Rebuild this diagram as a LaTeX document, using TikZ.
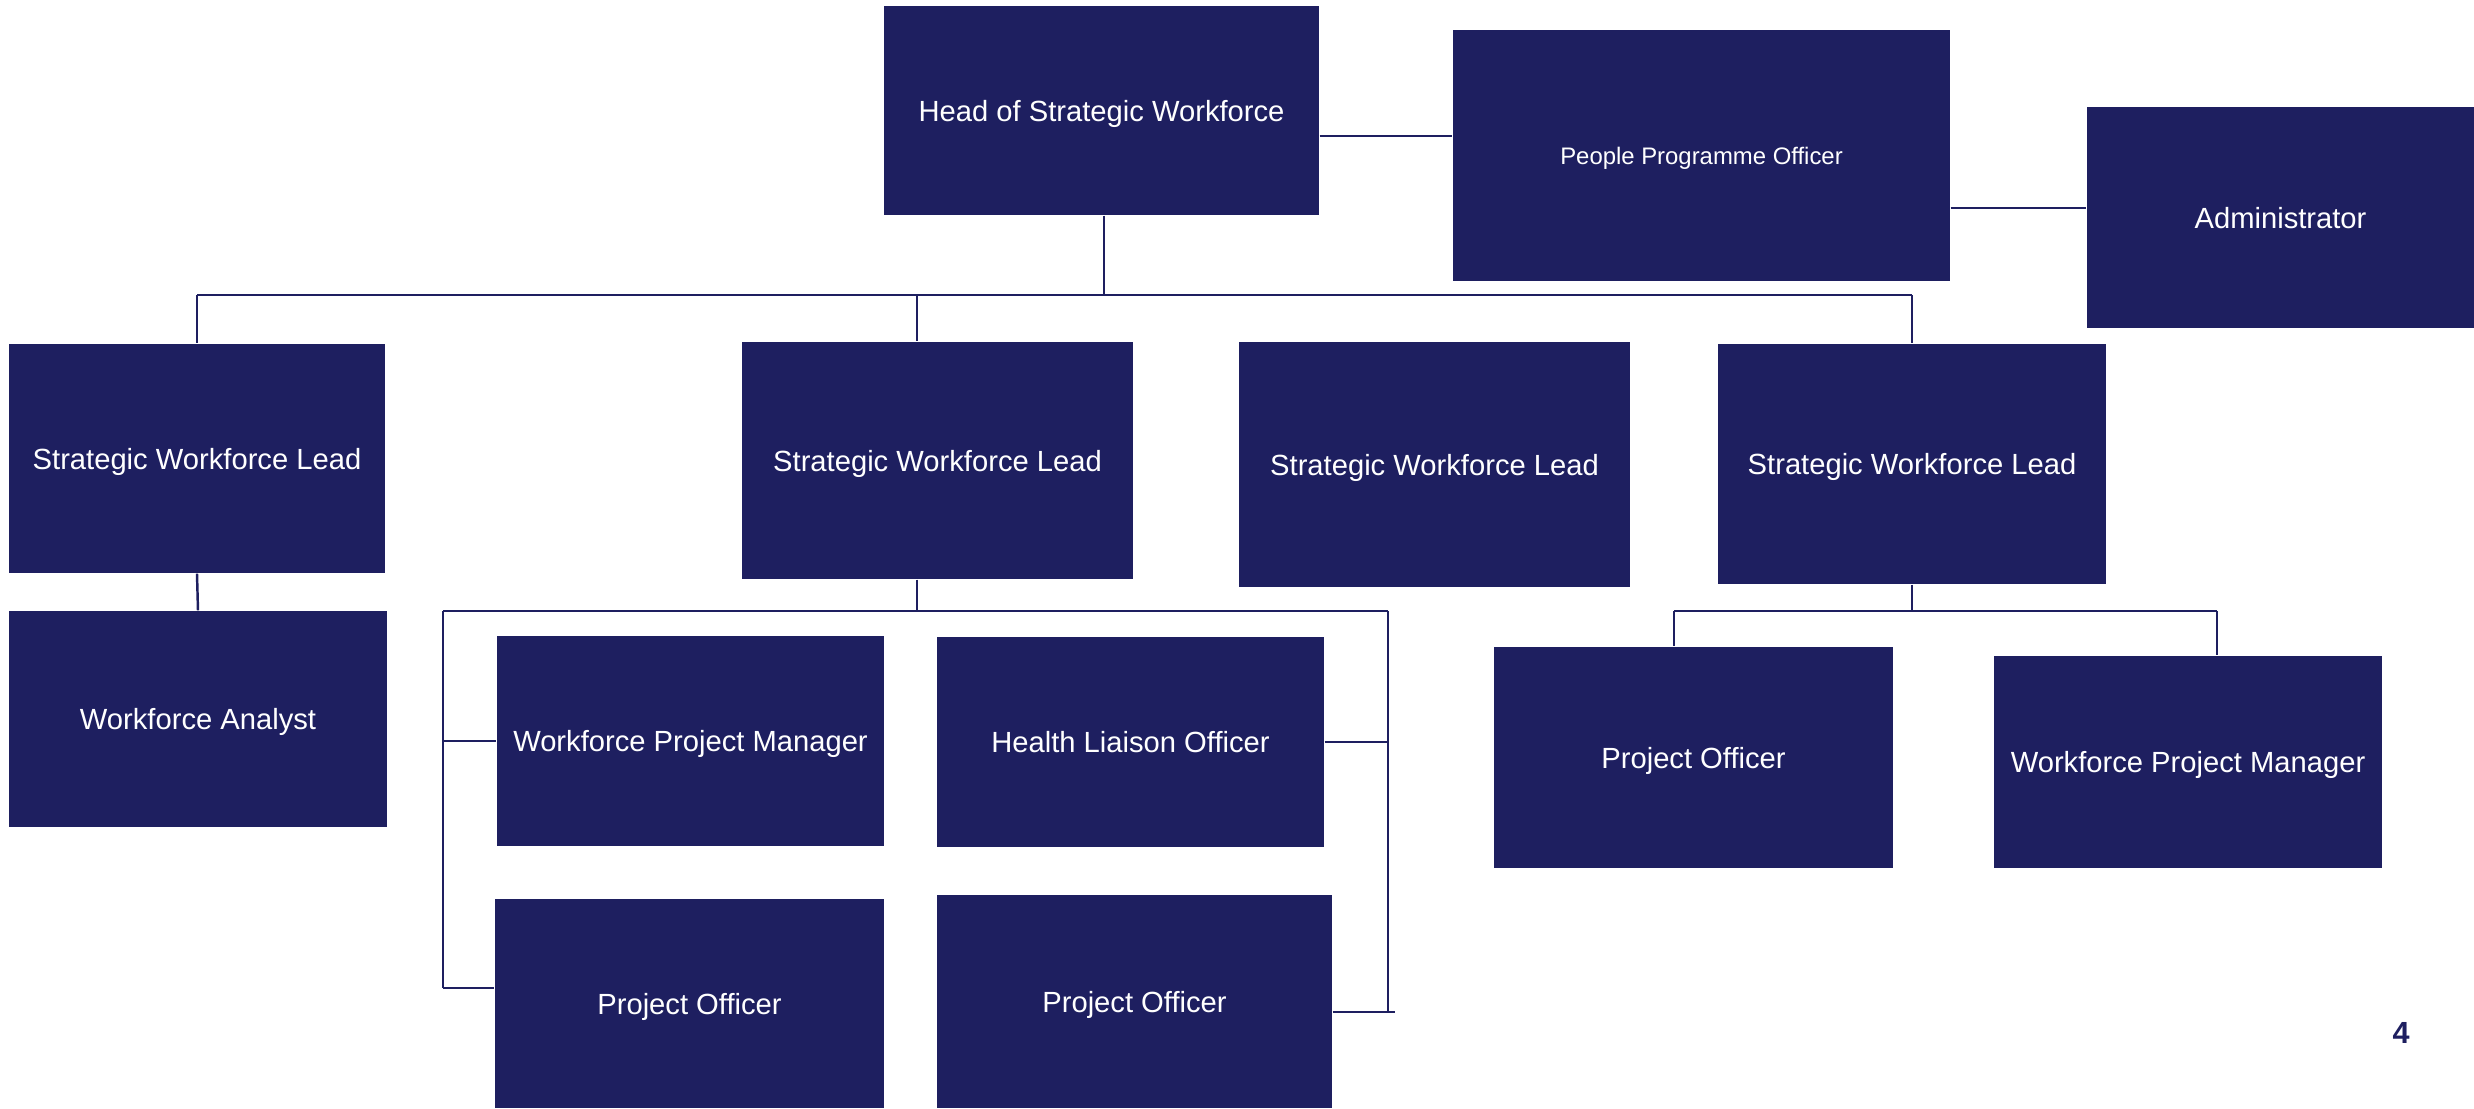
\documentclass[tikz,border=0pt]{standalone}
\usepackage{fontspec}
\setmainfont{Liberation Sans}
\definecolor{swnavy}{HTML}{1E1F60}

\begin{document}
\begin{tikzpicture}[y=-1cm,
  every node/.style={font=\fontsize{8.3}{10}\selectfont},
  role/.style={rectangle, fill=swnavy, text=white, inner sep=0pt, text depth=0pt},
  link/.style={draw=swnavy, line width=0.7pt}]

\useasboundingbox (0,0) rectangle (24.74,11.08);

% Top row
\node[role, minimum width=4.35cm, minimum height=2.09cm] (head) at (11.015,1.105) {Head of Strategic Workforce};
\node[role, minimum width=4.97cm, minimum height=2.51cm, font=\fontsize{6.8}{8}\selectfont] (ppo) at (17.015,1.555) {People Programme Officer};
\node[role, minimum width=3.87cm, minimum height=2.21cm] (admin) at (22.805,2.175) {Administrator};

% Strategic workforce leads
\node[role, minimum width=3.76cm, minimum height=2.29cm] (swl1) at (1.97,4.585) {Strategic Workforce Lead};
\node[role, minimum width=3.91cm, minimum height=2.37cm] (swl2) at (9.375,4.605) {Strategic Workforce Lead};
\node[role, minimum width=3.91cm, minimum height=2.45cm] (swl3) at (14.345,4.645) {Strategic Workforce Lead};
\node[role, minimum width=3.88cm, minimum height=2.40cm] (swl4) at (19.12,4.64) {Strategic Workforce Lead};

% Teams
\node[role, minimum width=3.78cm, minimum height=2.16cm] (analyst) at (1.98,7.19) {Workforce Analyst};
\node[role, minimum width=3.87cm, minimum height=2.10cm] (wpmA) at (6.905,7.41) {Workforce Project Manager};
\node[role, minimum width=3.87cm, minimum height=2.10cm] (hlo) at (11.305,7.42) {Health Liaison Officer};
\node[role, minimum width=3.89cm, minimum height=2.09cm] (poA) at (6.895,10.035) {Project Officer};
\node[role, minimum width=3.95cm, minimum height=2.13cm] (poB) at (11.345,10.015) {Project Officer};
\node[role, minimum width=3.99cm, minimum height=2.21cm] (poC) at (16.935,7.575) {Project Officer};
\node[role, minimum width=3.88cm, minimum height=2.12cm] (wpmB) at (21.88,7.62) {Workforce Project Manager};

% Page number
\node[font=\bfseries\fontsize{8.7}{10}\selectfont, text=swnavy] (pagenum) at (24.01,10.33) {4};

% Junction points
\coordinate (hp) at (0,1.36);
\coordinate (pa) at (0,2.08);
\coordinate (bar1) at (0,2.95);
\coordinate (j1) at (11.04,2.95);
\coordinate (j2) at (9.17,2.95);
\coordinate (b2l) at (4.43,6.11);
\coordinate (b2r) at (13.88,6.11);
\coordinate (poAtick) at (0,9.88);
\coordinate (poBtick) at (13.95,10.12);
\coordinate (b3l) at (16.74,6.11);
\coordinate (b3r) at (22.17,6.11);

% Top connectors
\draw[link] (head.east |- hp) -- (ppo.west |- hp);
\draw[link] (ppo.east |- pa) -- (admin.west |- pa);
\draw[link] (j1 |- head.south) -- (j1);
\draw[link] (swl1.north |- bar1) -- (swl4.north |- bar1);
\draw[link] (swl1.north |- bar1) -- (swl1.north);
\draw[link] (j2) -- (j2 |- swl2.north);
\draw[link] (swl4.north |- bar1) -- (swl4.north);

% Left lead
\draw[link] (swl1.south) -- (analyst.north);

% Second lead and its team
\draw[link] (j2 |- swl2.south) -- (j2 |- b2l);
\draw[link] (b2l) -- (b2r);
\draw[link] (b2l) -- (b2l |- poAtick);
\draw[link] (b2r) -- (b2r |- poBtick);
\draw[link] (b2l |- wpmA.west) -- (wpmA.west);
\draw[link] (b2l |- poAtick) -- (poA.west |- poAtick);
\draw[link] (hlo.east) -- (b2r |- hlo.east);
\draw[link] (poB.east |- poBtick) -- (poBtick);

% Fourth lead and its team
\draw[link] (swl4.south) -- (swl4.south |- b3l);
\draw[link] (b3l) -- (b3r);
\draw[link] (b3l) -- (b3l |- poC.north);
\draw[link] (b3r) -- (b3r |- wpmB.north);

\end{tikzpicture}
\end{document}
